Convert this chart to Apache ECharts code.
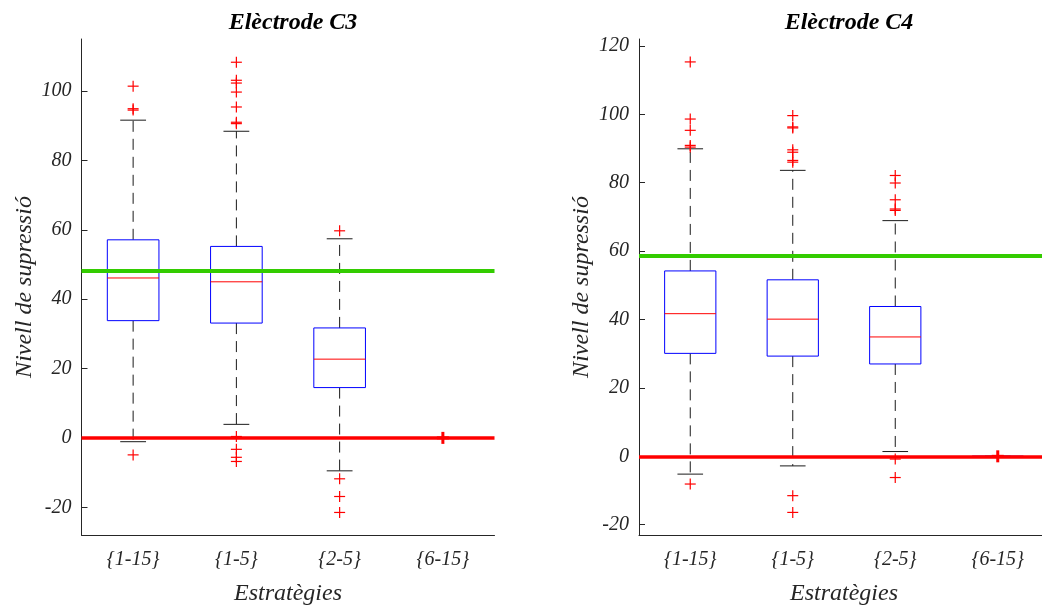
<!DOCTYPE html>
<html>
<head>
<meta charset="utf-8">
<script src="https://cdn.jsdelivr.net/npm/echarts@6/dist/echarts.min.js"></script>
<style>
  html, body { margin: 0; padding: 0; background: #fff; overflow: hidden; }
  #chart { width: 1050px; height: 608px; }
</style>
</head>
<body>
<div id="chart"></div>
<script>
// Strategy groups on the x axis
const categories = ['{1-15}', '{1-5}', '{2-5}', '{6-15}'];

// Box statistics per group: [lower whisker, Q1, median, Q3, upper whisker]
const c3Boxes = [
  [-1.1, 33.8, 46.1, 57.1, 91.6],
  [3.9, 33.1, 45.0, 55.2, 88.4],
  [-9.5, 14.5, 22.7, 31.7, 57.4],
  [0, 0, 0, 0, 0]
];
const c3Outliers = [
  [101.4, 94.9, 94.5, -4.9],
  [108.3, 103.1, 102.3, 99.7, 95.4, 91.0, 90.6, 0.4, -3.3, -5.6, -6.8],
  [59.7, -11.8, -16.9, -21.5],
  [0]
];
const c4Boxes = [
  [-5.2, 30.1, 41.7, 54.2, 89.9],
  [-2.8, 29.3, 40.1, 51.6, 83.6],
  [1.4, 27.0, 34.9, 43.8, 68.9],
  [0, 0, 0, 0, 0]
];
const c4Outliers = [
  [115.3, 98.6, 95.3, 90.9, 90.4, -8.1],
  [99.6, 96.3, 96.0, 89.6, 88.9, 86.5, 86.0, -11.5, -16.4],
  [82.1, 79.9, 75.0, 72.3, 71.9, -0.8, -6.2],
  [0]
];

// Reference levels: upper (green) and zero (red)
const c3Upper = 48.2;
const c4Upper = 58.5;
const zeroLevel = 0;

// Tick labels
const c3Ticks = [-20, 0, 20, 40, 60, 80, 100];
const c4Ticks = [-20, 0, 20, 40, 60, 80, 100, 120];

const TEXT = '#262626';
const SERIF = '"Liberation Serif", "Times New Roman", serif';

function boxData(boxes) {
  return boxes.map((b, i) => [i, b[0], b[1], b[2], b[3], b[4]]);
}
function outlierData(outliers, boxes) {
  const out = [];
  outliers.forEach((list, i) => {
    const flat = boxes[i][1] === boxes[i][3] ? 1 : 0;
    list.forEach(v => out.push([i, v, flat]));
  });
  return out;
}

function renderBox(params, api) {
  const i = api.value(0);
  const lo = api.coord([i, api.value(1)]);
  const q1 = api.coord([i, api.value(2)]);
  const md = api.coord([i, api.value(3)]);
  const q3 = api.coord([i, api.value(4)]);
  const hi = api.coord([i, api.value(5)]);
  const cx = lo[0];
  const half = api.size([1, 0])[0] * 0.25;
  const cap = half / 2;
  const dash = { stroke: '#1a1a1a', lineWidth: 1, lineDash: [11, 7] };
  const solid = { stroke: '#1a1a1a', lineWidth: 1 };
  return {
    type: 'group',
    children: [
      { type: 'line', shape: { x1: cx, y1: q3[1], x2: cx, y2: hi[1] }, style: dash },
      { type: 'line', shape: { x1: cx, y1: q1[1], x2: cx, y2: lo[1] }, style: dash },
      { type: 'line', shape: { x1: cx - cap, y1: hi[1], x2: cx + cap, y2: hi[1] }, style: solid },
      { type: 'line', shape: { x1: cx - cap, y1: lo[1], x2: cx + cap, y2: lo[1] }, style: solid },
      { type: 'rect', shape: { x: cx - half, y: q3[1], width: 2 * half, height: q1[1] - q3[1] },
        style: { fill: '#fff', stroke: '#0000ff', lineWidth: 1 } },
      { type: 'line', shape: { x1: cx - half, y1: md[1], x2: cx + half, y2: md[1] },
        style: { stroke: '#ff0000', lineWidth: 1 } }
    ]
  };
}

function renderPlus(params, api) {
  const p = api.coord([api.value(0), api.value(1)]);
  const flat = api.value(2) === 1;
  const s = flat ? 6 : 5.5;
  const w = flat ? 3 : 1.2;
  const st = { stroke: '#ff0000', lineWidth: w };
  return {
    type: 'group',
    children: [
      { type: 'line', shape: { x1: p[0] - s, y1: p[1], x2: p[0] + s, y2: p[1] }, style: st },
      { type: 'line', shape: { x1: p[0], y1: p[1] - s, x2: p[0], y2: p[1] + s }, style: st }
    ]
  };
}

function xAxisFor(gi) {
  return {
    gridIndex: gi, type: 'category', data: categories,
    axisLine: { onZero: false, lineStyle: { color: TEXT, width: 1 } },
    axisTick: { alignWithLabel: true, inside: true, length: 6, lineStyle: { color: TEXT } },
    axisLabel: { fontFamily: SERIF, fontStyle: 'italic', fontSize: 20, color: TEXT, margin: 15 },
    name: 'Estratègies', nameLocation: 'middle', nameGap: 47,
    nameTextStyle: { fontFamily: SERIF, fontStyle: 'italic', fontSize: 24, color: TEXT }
  };
}
function yAxisFor(gi, min, max, ticks) {
  return {
    gridIndex: gi, type: 'value', min: min, max: max,
    axisLine: { show: true, onZero: false, lineStyle: { color: TEXT, width: 1 } },
    axisTick: { show: true, inside: true, length: 6, customValues: ticks, lineStyle: { color: TEXT } },
    axisLabel: { customValues: ticks, fontFamily: SERIF, fontStyle: 'italic', fontSize: 20, color: TEXT, margin: 10 },
    splitLine: { show: false },
    name: 'Nivell de supressió', nameLocation: 'middle', nameGap: 45,
    nameTextStyle: { fontFamily: SERIF, fontStyle: 'italic', fontSize: 24, color: TEXT }
  };
}
function refLines(gi, upper) {
  return {
    type: 'line', xAxisIndex: gi, yAxisIndex: gi, data: [], z: 3, silent: true,
    markLine: {
      silent: true, symbol: ['none', 'none'], label: { show: false },
      animation: false,
      data: [
        { yAxis: upper, lineStyle: { color: '#33cc00', width: 4, type: 'solid' } },
        { yAxis: zeroLevel, lineStyle: { color: '#ff0000', width: 3.5, type: 'solid' } }
      ]
    }
  };
}

const chart = echarts.init(document.getElementById('chart'), null, { renderer: 'canvas' });
chart.setOption({
  animation: false,
  backgroundColor: '#ffffff',
  title: [
    { text: 'Elèctrode C3', left: 288, top: 6, textAlign: 'center',
      textStyle: { fontFamily: SERIF, fontStyle: 'italic', fontWeight: 'bold', fontSize: 24, color: '#000' } },
    { text: 'Elèctrode C4', left: 844, top: 6, textAlign: 'center',
      textStyle: { fontFamily: SERIF, fontStyle: 'italic', fontWeight: 'bold', fontSize: 24, color: '#000' } }
  ],
  grid: [
    { left: 81.5, top: 39, width: 413, height: 496, outerBoundsMode: 'none', containLabel: false },
    { left: 639, top: 39, width: 410, height: 496, outerBoundsMode: 'none', containLabel: false }
  ],
  xAxis: [xAxisFor(0), xAxisFor(1)],
  yAxis: [yAxisFor(0, -28, 115, c3Ticks), yAxisFor(1, -23, 122, c4Ticks)],
  series: [
    { type: 'custom', xAxisIndex: 0, yAxisIndex: 0, z: 2, renderItem: renderBox,
      encode: { x: 0, y: [1, 2, 3, 4, 5] }, data: boxData(c3Boxes) },
    refLines(0, c3Upper),
    { type: 'custom', xAxisIndex: 0, yAxisIndex: 0, z: 4, renderItem: renderPlus,
      encode: { x: 0, y: 1 }, data: outlierData(c3Outliers, c3Boxes) },
    { type: 'custom', xAxisIndex: 1, yAxisIndex: 1, z: 2, renderItem: renderBox,
      encode: { x: 0, y: [1, 2, 3, 4, 5] }, data: boxData(c4Boxes) },
    refLines(1, c4Upper),
    { type: 'custom', xAxisIndex: 1, yAxisIndex: 1, z: 4, renderItem: renderPlus,
      encode: { x: 0, y: 1 }, data: outlierData(c4Outliers, c4Boxes) }
  ]
});
</script>
</body>
</html>
